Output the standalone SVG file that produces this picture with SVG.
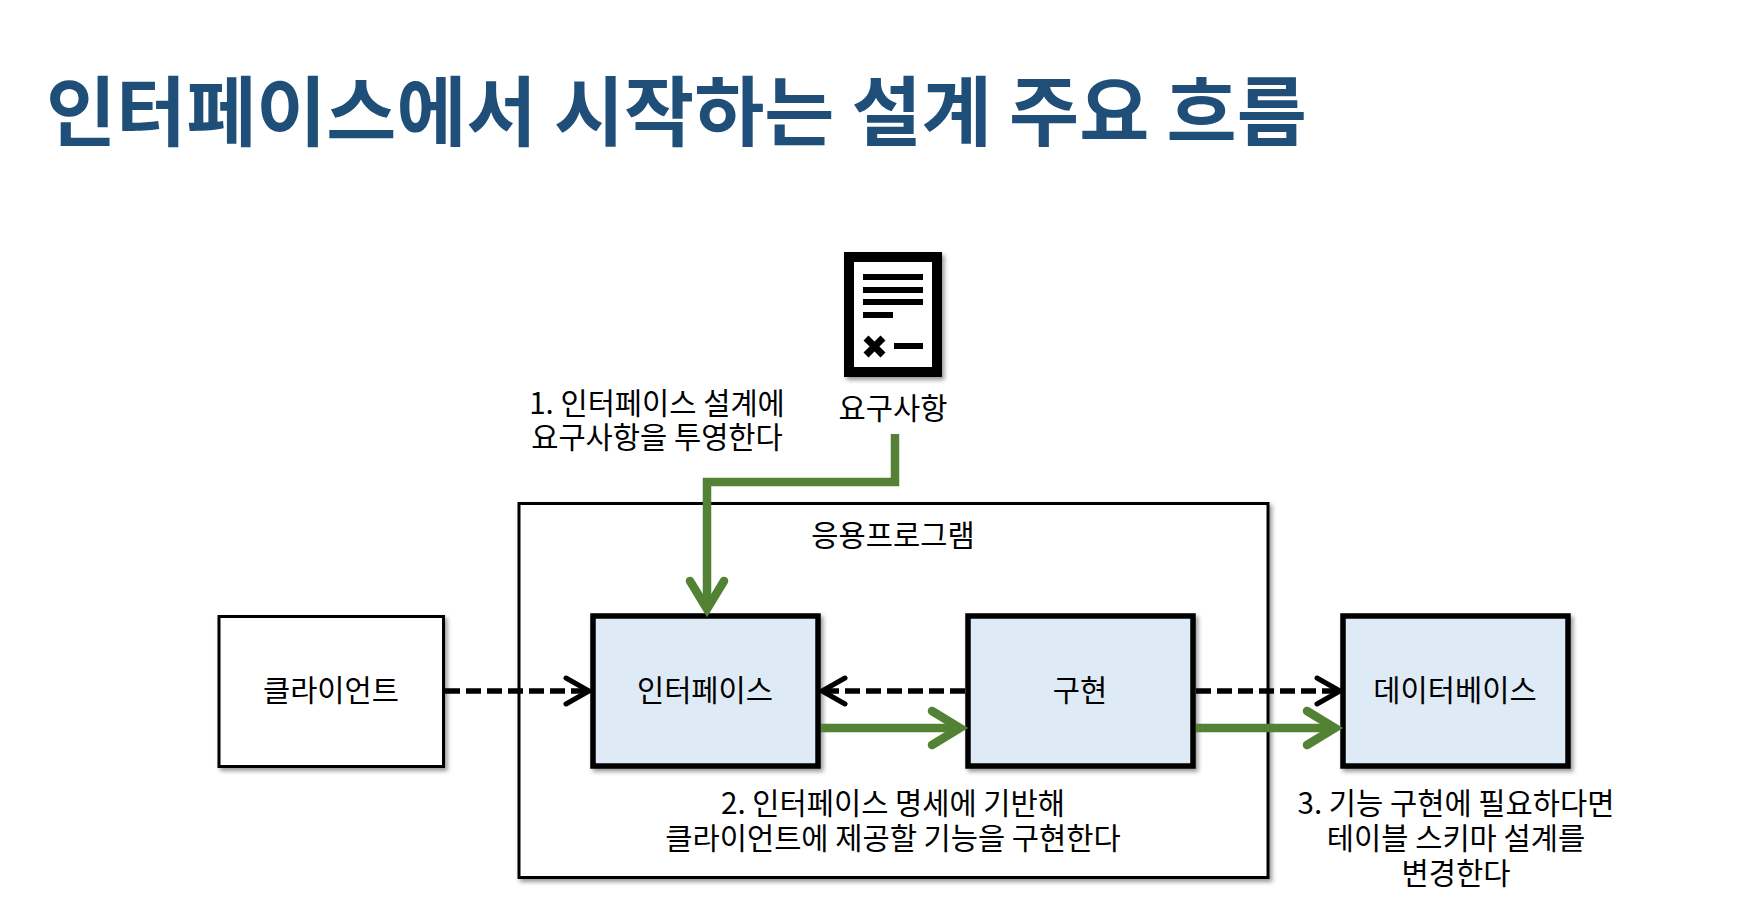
<svg xmlns="http://www.w3.org/2000/svg" width="1756" height="908" viewBox="0 0 1756 908">
<style>
text{font-family:"Noto Sans CJK KR","Noto Sans",sans-serif;font-size:29.600px;fill:#000;text-anchor:middle}
.t{font-size:76.200px;font-weight:700;fill:#1F4E79;text-anchor:start}
.b{fill:#DEEAF6;stroke:#000;stroke-width:5.500}
.g{fill:none;stroke:#548235;stroke-width:8.500}
.gh{fill:none;stroke:#548235;stroke-width:8.500;stroke-linecap:round;stroke-linejoin:miter}
.k{fill:none;stroke:#000;stroke-width:5.500;stroke-dasharray:15 6}
.kh{fill:none;stroke:#000;stroke-width:5;stroke-linecap:round}
</style>
<defs><filter id="s" x="-10%" y="-10%" width="125%" height="125%"><feDropShadow dx="2.500" dy="3" stdDeviation="2" flood-color="#000" flood-opacity=".4"/></filter></defs>
<rect width="1756" height="908" fill="#fff"/>
<text class="t" x="46" y="140">인터페이스에서 시작하는 설계 주요 흐름</text>
<g id="app"><rect x="519" y="503.500" width="749" height="374" fill="#fff" stroke="#000" stroke-width="3" filter="url(#s)"/><text x="893" y="545.500">응용프로그램</text></g>
<g id="req"><g filter="url(#s)"><rect x="849" y="257" width="88" height="115" fill="#fff" stroke="#000" stroke-width="10"/></g>
<path d="M863 277h60M863 290h60M863 302h60M863 315h30M894 346h29" stroke="#000" stroke-width="6" fill="none"/>
<path d="M866 338l17 17M883 338l-17 17" stroke="#000" stroke-width="7" fill="none"/>
<text x="893" y="419">요구사항</text></g>
<g id="client"><rect x="219" y="616.500" width="224.500" height="150" fill="#fff" stroke="#000" stroke-width="3" filter="url(#s)"/><text x="331" y="700.500">클라이언트</text></g>
<g id="interface"><rect class="b" x="593" y="616" width="225" height="150" filter="url(#s)"/><text x="705" y="700.500">인터페이스</text></g>
<g id="impl"><rect class="b" x="968" y="616" width="225" height="150" filter="url(#s)"/><text x="1080" y="700.500">구현</text></g>
<g id="db"><rect class="b" x="1343" y="616" width="225" height="150" filter="url(#s)"/><text x="1455" y="700.500">데이터베이스</text></g>
<g id="connectors">
<path class="g" d="M895 434V482H707V606"/><path class="gh" d="M690 581L707 609L724 581"/>
<path class="k" d="M445 691H585"/><path class="kh" d="M566 678L589 691L566 704"/>
<path class="k" d="M965 691H825"/><path class="kh" d="M845 678L822 691L845 704"/>
<path class="k" d="M1196 691H1335"/><path class="kh" d="M1317 678L1340 691L1317 704"/>
<path class="g" d="M821 728H956"/><path class="gh" d="M932 711L960 728L932 745"/>
<path class="g" d="M1196 728H1331"/><path class="gh" d="M1307 711L1335 728L1307 745"/>
</g>
<g id="labels">
<text x="657" y="413.500">1. 인터페이스 설계에</text><text x="657" y="447.500">요구사항을 투영한다</text>
<text x="893" y="814">2. 인터페이스 명세에 기반해</text><text x="893" y="849">클라이언트에 제공할 기능을 구현한다</text>
<text x="1456" y="814">3. 기능 구현에 필요하다면</text><text x="1456" y="849">테이블 스키마 설계를</text><text x="1456" y="884">변경한다</text>
</g>
</svg>
